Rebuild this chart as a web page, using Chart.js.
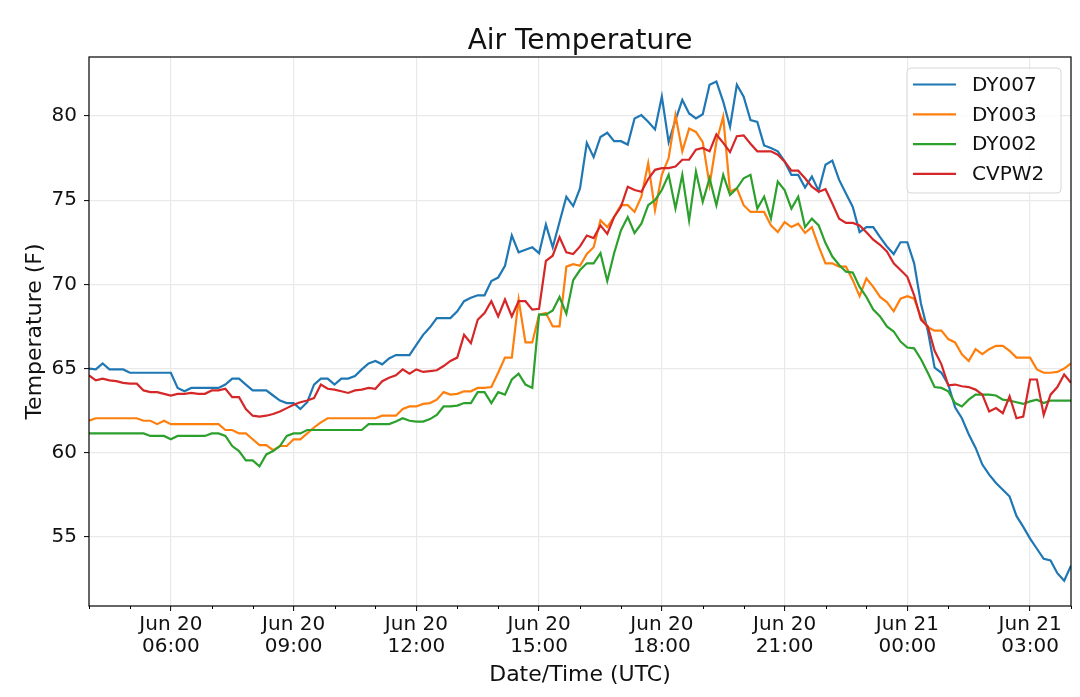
<!DOCTYPE html>
<html lang="en">
<head>
<meta charset="UTF-8">
<title>Air Temperature</title>
<script src="https://cdn.jsdelivr.net/npm/chart.js"></script>
<style>
    * { margin: 0; padding: 0; }
    body { background: #fff; }
    #wrap { width: 1080px; height: 697px; }
</style>
</head>
<body>
<div id="wrap"><canvas id="grafico"></canvas></div>
<script>
// one sample every 10 min, Jun 20 04:00 UTC -> Jun 21 04:00 UTC
const startHour = 4;
const stepMinutes = 10;

const seriesNames = ['DY007', 'DY003', 'DY002', 'CVPW2'];
const seriesColors = ['#1f77b4', '#ff7f0e', '#2ca02c', '#d62728'];

const dy007 = [
    65.0, 64.95, 65.3, 64.95, 64.95, 64.95,
    64.75, 64.75, 64.75, 64.75, 64.75, 64.75,
    64.75, 63.85, 63.65, 63.85, 63.85, 63.85,
    63.85, 63.85, 64.05, 64.4, 64.4, 64.05,
    63.7, 63.7, 63.7, 63.4, 63.1, 62.95,
    62.95, 62.6, 63.0, 64.05, 64.4, 64.4,
    64.05, 64.4, 64.4, 64.55, 64.95, 65.3,
    65.45, 65.25, 65.6, 65.8, 65.8, 65.8,
    66.4, 67.0, 67.45, 68.0, 68.0, 68.0,
    68.4, 69.0, 69.2, 69.35, 69.35, 70.2,
    70.4, 71.1, 72.9, 71.9, 72.05, 72.2,
    71.85, 73.55, 72.2, 73.7, 75.2, 74.65,
    75.7, 78.4, 77.55, 78.75, 79.0, 78.5,
    78.5, 78.3, 79.85, 80.05, 79.65, 79.2,
    81.15, 78.45, 79.75, 80.95, 80.15, 79.85,
    80.1, 81.85, 82.05, 80.85, 79.35, 81.85,
    81.15, 79.75, 79.65, 78.25, 78.1, 77.9,
    77.3, 76.5, 76.5, 75.75, 76.4, 75.55,
    77.1, 77.35, 76.2, 75.4, 74.6, 73.1,
    73.4, 73.4, 72.8, 72.25, 71.8, 72.5,
    72.5, 71.25, 68.85, 67.25, 65.05, 64.75,
    64.05, 62.7, 62.05, 61.1, 60.3, 59.3,
    58.7, 58.2, 57.8, 57.4, 56.25, 55.6,
    54.9, 54.3, 53.7, 53.6, 52.85, 52.4,
    53.3
];

const dy003 = [
    61.9, 62.05, 62.05, 62.05, 62.05, 62.05,
    62.05, 62.05, 61.9, 61.9, 61.7, 61.9,
    61.7, 61.7, 61.7, 61.7, 61.7, 61.7,
    61.7, 61.7, 61.35, 61.35, 61.15, 61.15,
    60.8, 60.45, 60.45, 60.15, 60.4, 60.4,
    60.8, 60.8, 61.15, 61.5, 61.8, 62.05,
    62.05, 62.05, 62.05, 62.05, 62.05, 62.05,
    62.05, 62.2, 62.2, 62.2, 62.6, 62.75,
    62.75, 62.9, 62.95, 63.15, 63.6, 63.45,
    63.5, 63.65, 63.65, 63.85, 63.85, 63.9,
    64.75, 65.65, 65.65, 69.1, 66.55, 66.55,
    68.2, 68.3, 67.5, 67.5, 71.05, 71.2,
    71.1, 71.8, 72.2, 73.8, 73.4, 74.0,
    74.7, 74.7, 74.3, 75.2, 77.2, 74.4,
    76.5, 77.5, 80.05, 77.9, 79.25, 79.05,
    78.45, 75.9, 78.45, 79.95, 75.5, 75.7,
    74.7, 74.3, 74.3, 74.3, 73.5, 73.1,
    73.7, 73.4, 73.6, 73.05, 73.4, 72.25,
    71.25, 71.25, 71.05, 71.05, 70.25, 69.3,
    70.35, 69.85, 69.25, 68.95, 68.4, 69.15,
    69.3, 69.15, 68.05, 67.45, 67.25, 67.25,
    66.75, 66.55, 65.85, 65.45, 66.15, 65.85,
    66.15, 66.35, 66.35, 66.05, 65.65, 65.65,
    65.65, 64.95, 64.75, 64.75, 64.8, 65.0,
    65.3
];

const dy002 = [
    61.15, 61.15, 61.15, 61.15, 61.15, 61.15,
    61.15, 61.15, 61.15, 61.0, 61.0, 61.0,
    60.8, 61.0, 61.0, 61.0, 61.0, 61.0,
    61.15, 61.15, 61.0, 60.4, 60.1, 59.55,
    59.55, 59.2, 59.9, 60.1, 60.4, 61.0,
    61.15, 61.15, 61.35, 61.35, 61.35, 61.35,
    61.35, 61.35, 61.35, 61.35, 61.35, 61.7,
    61.7, 61.7, 61.7, 61.85, 62.05, 61.9,
    61.85, 61.85, 62.0, 62.25, 62.75, 62.75,
    62.8, 62.95, 62.95, 63.6, 63.6, 62.95,
    63.6, 63.45, 64.35, 64.7, 64.05, 63.85,
    68.2, 68.2, 68.45, 69.25, 68.25, 70.25,
    70.85, 71.25, 71.25, 71.85, 70.2, 71.85,
    73.2, 74.0, 73.05, 73.6, 74.7, 75.0,
    75.6, 76.5, 74.5, 76.5, 73.8, 76.7,
    74.9, 76.3, 74.7, 76.5, 75.3, 75.7,
    76.3, 76.5, 74.5, 75.2, 73.9, 76.1,
    75.6, 74.5, 75.2, 73.4, 73.9, 73.5,
    72.45, 71.65, 71.15, 70.75, 70.7, 69.85,
    69.25, 68.5, 68.1, 67.5, 67.2, 66.6,
    66.25, 66.2, 65.55, 64.75, 63.9, 63.85,
    63.65, 62.95, 62.75, 63.15, 63.45, 63.45,
    63.45, 63.4, 63.15, 63.1, 63.0, 62.9,
    63.05, 63.15, 62.95, 63.1, 63.1, 63.1,
    63.1
];

const cvpw2 = [
    64.6, 64.3, 64.4, 64.3, 64.25, 64.15,
    64.1, 64.1, 63.7, 63.6, 63.6, 63.5,
    63.4, 63.5, 63.5, 63.55, 63.5, 63.5,
    63.7, 63.7, 63.8, 63.3, 63.3, 62.6,
    62.2, 62.15, 62.2, 62.3, 62.45, 62.65,
    62.85, 63.0, 63.1, 63.25, 64.05, 63.8,
    63.75, 63.65, 63.55, 63.7, 63.75, 63.85,
    63.8, 64.25, 64.45, 64.6, 64.95, 64.7,
    64.95, 64.8, 64.85, 64.9, 65.15, 65.45,
    65.65, 67.0, 66.5, 67.9, 68.3, 69.0,
    68.1, 69.1, 68.1, 69.0, 69.0, 68.5,
    68.55, 71.4, 71.7, 72.8, 71.9, 71.8,
    72.25, 72.9, 72.75, 73.5, 73.0, 74.0,
    74.6, 75.8, 75.6, 75.5, 76.25, 76.8,
    76.9, 76.9, 77.0, 77.4, 77.4, 78.0,
    78.1, 77.9, 78.9, 78.4, 77.85, 78.8,
    78.85, 78.35, 77.9, 77.9, 77.9, 77.7,
    77.3, 76.75, 76.75, 76.3, 75.8, 75.5,
    75.65, 74.8, 73.9, 73.65, 73.65, 73.5,
    73.1, 72.65, 72.35, 71.95, 71.25, 70.85,
    70.45, 69.35, 67.9, 67.5, 66.05, 65.25,
    64.0, 64.05, 63.95, 63.9, 63.75, 63.45,
    62.45, 62.65, 62.35, 63.35, 62.05, 62.15,
    64.35, 64.35, 62.25, 63.45, 63.9, 64.65,
    64.15
];

const seriesValues = [dy007, dy003, dy002, cvpw2];

// hours counted from Jun 20 00:00 UTC
const xMin = 4;
const xMax = 28;
const xTickHours = [6, 9, 12, 15, 18, 21, 24, 27];
const xTickLabels = [
    ['Jun 20', '06:00'], ['Jun 20', '09:00'], ['Jun 20', '12:00'], ['Jun 20', '15:00'],
    ['Jun 20', '18:00'], ['Jun 20', '21:00'], ['Jun 21', '00:00'], ['Jun 21', '03:00']
];
const yMin = 50.9;
const yMax = 83.5;
const yTicks = [55, 60, 65, 70, 75, 80];

const chartTitle = 'Air Temperature';
const xTitle = 'Date/Time (UTC)';
const yTitle = 'Temperature (F)';

const fonte = '"DejaVu Sans", "Liberation Sans", sans-serif';
const corTexto = '#111';
const corGrade = '#e9e9e9';
const semCor = 'rgba(0,0,0,0)';

// hourly minor ticks
const horas = [];
for (let h = xMin; h <= xMax; h++) horas.push(h);
const ehMaior = (v) => xTickHours.includes(v);

const datasets = seriesValues.map((valores, i) => ({
    label: seriesNames[i],
    data: valores.map((v, k) => ({ x: startHour + k * stepMinutes / 60, y: v })),
    borderColor: seriesColors[i],
    backgroundColor: seriesColors[i],
    borderWidth: 2.2,
    pointRadius: 0,
    tension: 0,
    fill: false,
    order: seriesValues.length - i
}));

// frame, minor ticks, title and legend box drawn like matplotlib
const moldura = {
    id: 'moldura',
    afterDraw(chart) {
        const ctx = chart.ctx;
        const a = chart.chartArea;
        const xs = chart.scales.x;
        ctx.save();

        ctx.strokeStyle = '#000';
        ctx.lineWidth = 1;
        horas.filter(h => !ehMaior(h)).forEach(h => {
            const px = Math.round(xs.getPixelForValue(h)) + 0.5;
            ctx.beginPath();
            ctx.moveTo(px, a.bottom);
            ctx.lineTo(px, a.bottom + 3);
            ctx.stroke();
        });

        ctx.lineWidth = 1.2;
        ctx.strokeRect(a.left, a.top, a.right - a.left, a.bottom - a.top);

        ctx.fillStyle = corTexto;
        ctx.font = '28px ' + fonte;
        ctx.textAlign = 'center';
        ctx.textBaseline = 'alphabetic';
        ctx.fillText(chartTitle, (a.left + a.right) / 2, 49);

        // legend
        const w = 154, hgt = 125;
        const x0 = a.right - 10 - w, y0 = a.top + 11;
        const r = 4;
        ctx.beginPath();
        ctx.moveTo(x0 + r, y0);
        ctx.arcTo(x0 + w, y0, x0 + w, y0 + hgt, r);
        ctx.arcTo(x0 + w, y0 + hgt, x0, y0 + hgt, r);
        ctx.arcTo(x0, y0 + hgt, x0, y0, r);
        ctx.arcTo(x0, y0, x0 + w, y0, r);
        ctx.closePath();
        ctx.fillStyle = 'rgba(255,255,255,0.8)';
        ctx.fill();
        ctx.strokeStyle = '#d6d6d6';
        ctx.lineWidth = 1;
        ctx.stroke();

        ctx.font = '20px ' + fonte;
        ctx.textAlign = 'left';
        ctx.textBaseline = 'middle';
        seriesNames.forEach((nome, i) => {
            const cy = y0 + 16.5 + i * 29.8;
            ctx.strokeStyle = seriesColors[i];
            ctx.lineWidth = 2.2;
            ctx.beginPath();
            ctx.moveTo(x0 + 6, cy);
            ctx.lineTo(x0 + 49, cy);
            ctx.stroke();
            ctx.fillStyle = corTexto;
            ctx.fillText(nome, x0 + 65, cy + 1);
        });

        ctx.restore();
    }
};

const config = {
    type: 'line',
    data: { datasets },
    options: {
        responsive: true,
        maintainAspectRatio: false,
        animation: false,
        devicePixelRatio: 1,
        layout: { padding: { top: 57, right: 9, left: 0, bottom: 0 } },
        plugins: {
            legend: { display: false },
            title: { display: false },
            tooltip: { enabled: false }
        },
        scales: {
            x: {
                type: 'linear',
                min: xMin,
                max: xMax,
                afterBuildTicks: (axis) => { axis.ticks = horas.map(h => ({ value: h })); },
                afterFit: (axis) => { axis.height = 91; },
                border: { display: false },
                grid: {
                    color: (c) => (c.tick && ehMaior(c.tick.value)) ? corGrade : semCor,
                    lineWidth: 1.2,
                    tickLength: 5,
                    tickWidth: 1,
                    tickColor: (c) => (c.tick && ehMaior(c.tick.value)) ? '#000' : semCor
                },
                ticks: {
                    autoSkip: false,
                    maxRotation: 0,
                    minRotation: 0,
                    padding: 2,
                    color: corTexto,
                    font: { family: fonte, size: 20, lineHeight: 1.135 },
                    callback: (value) => {
                        const i = xTickHours.indexOf(value);
                        return i >= 0 ? xTickLabels[i] : '';
                    }
                },
                title: {
                    display: true,
                    text: xTitle,
                    color: corTexto,
                    font: { family: fonte, size: 22 },
                    padding: { top: 0, bottom: 9 }
                }
            },
            y: {
                type: 'linear',
                min: yMin,
                max: yMax,
                afterBuildTicks: (axis) => { axis.ticks = yTicks.map(v => ({ value: v })); },
                afterFit: (axis) => { axis.width = 89; },
                border: { display: false },
                grid: {
                    color: corGrade,
                    lineWidth: 1.2,
                    tickLength: 5,
                    tickWidth: 1,
                    tickColor: '#000'
                },
                ticks: {
                    padding: 7,
                    color: corTexto,
                    font: { family: fonte, size: 20 }
                },
                title: {
                    display: true,
                    text: yTitle,
                    color: corTexto,
                    font: { family: fonte, size: 22 },
                    padding: { top: 22, bottom: 0 }
                }
            }
        }
    },
    plugins: [moldura]
};

const grafico = new Chart(document.getElementById('grafico').getContext('2d'), config);
</script>
</body>
</html>
